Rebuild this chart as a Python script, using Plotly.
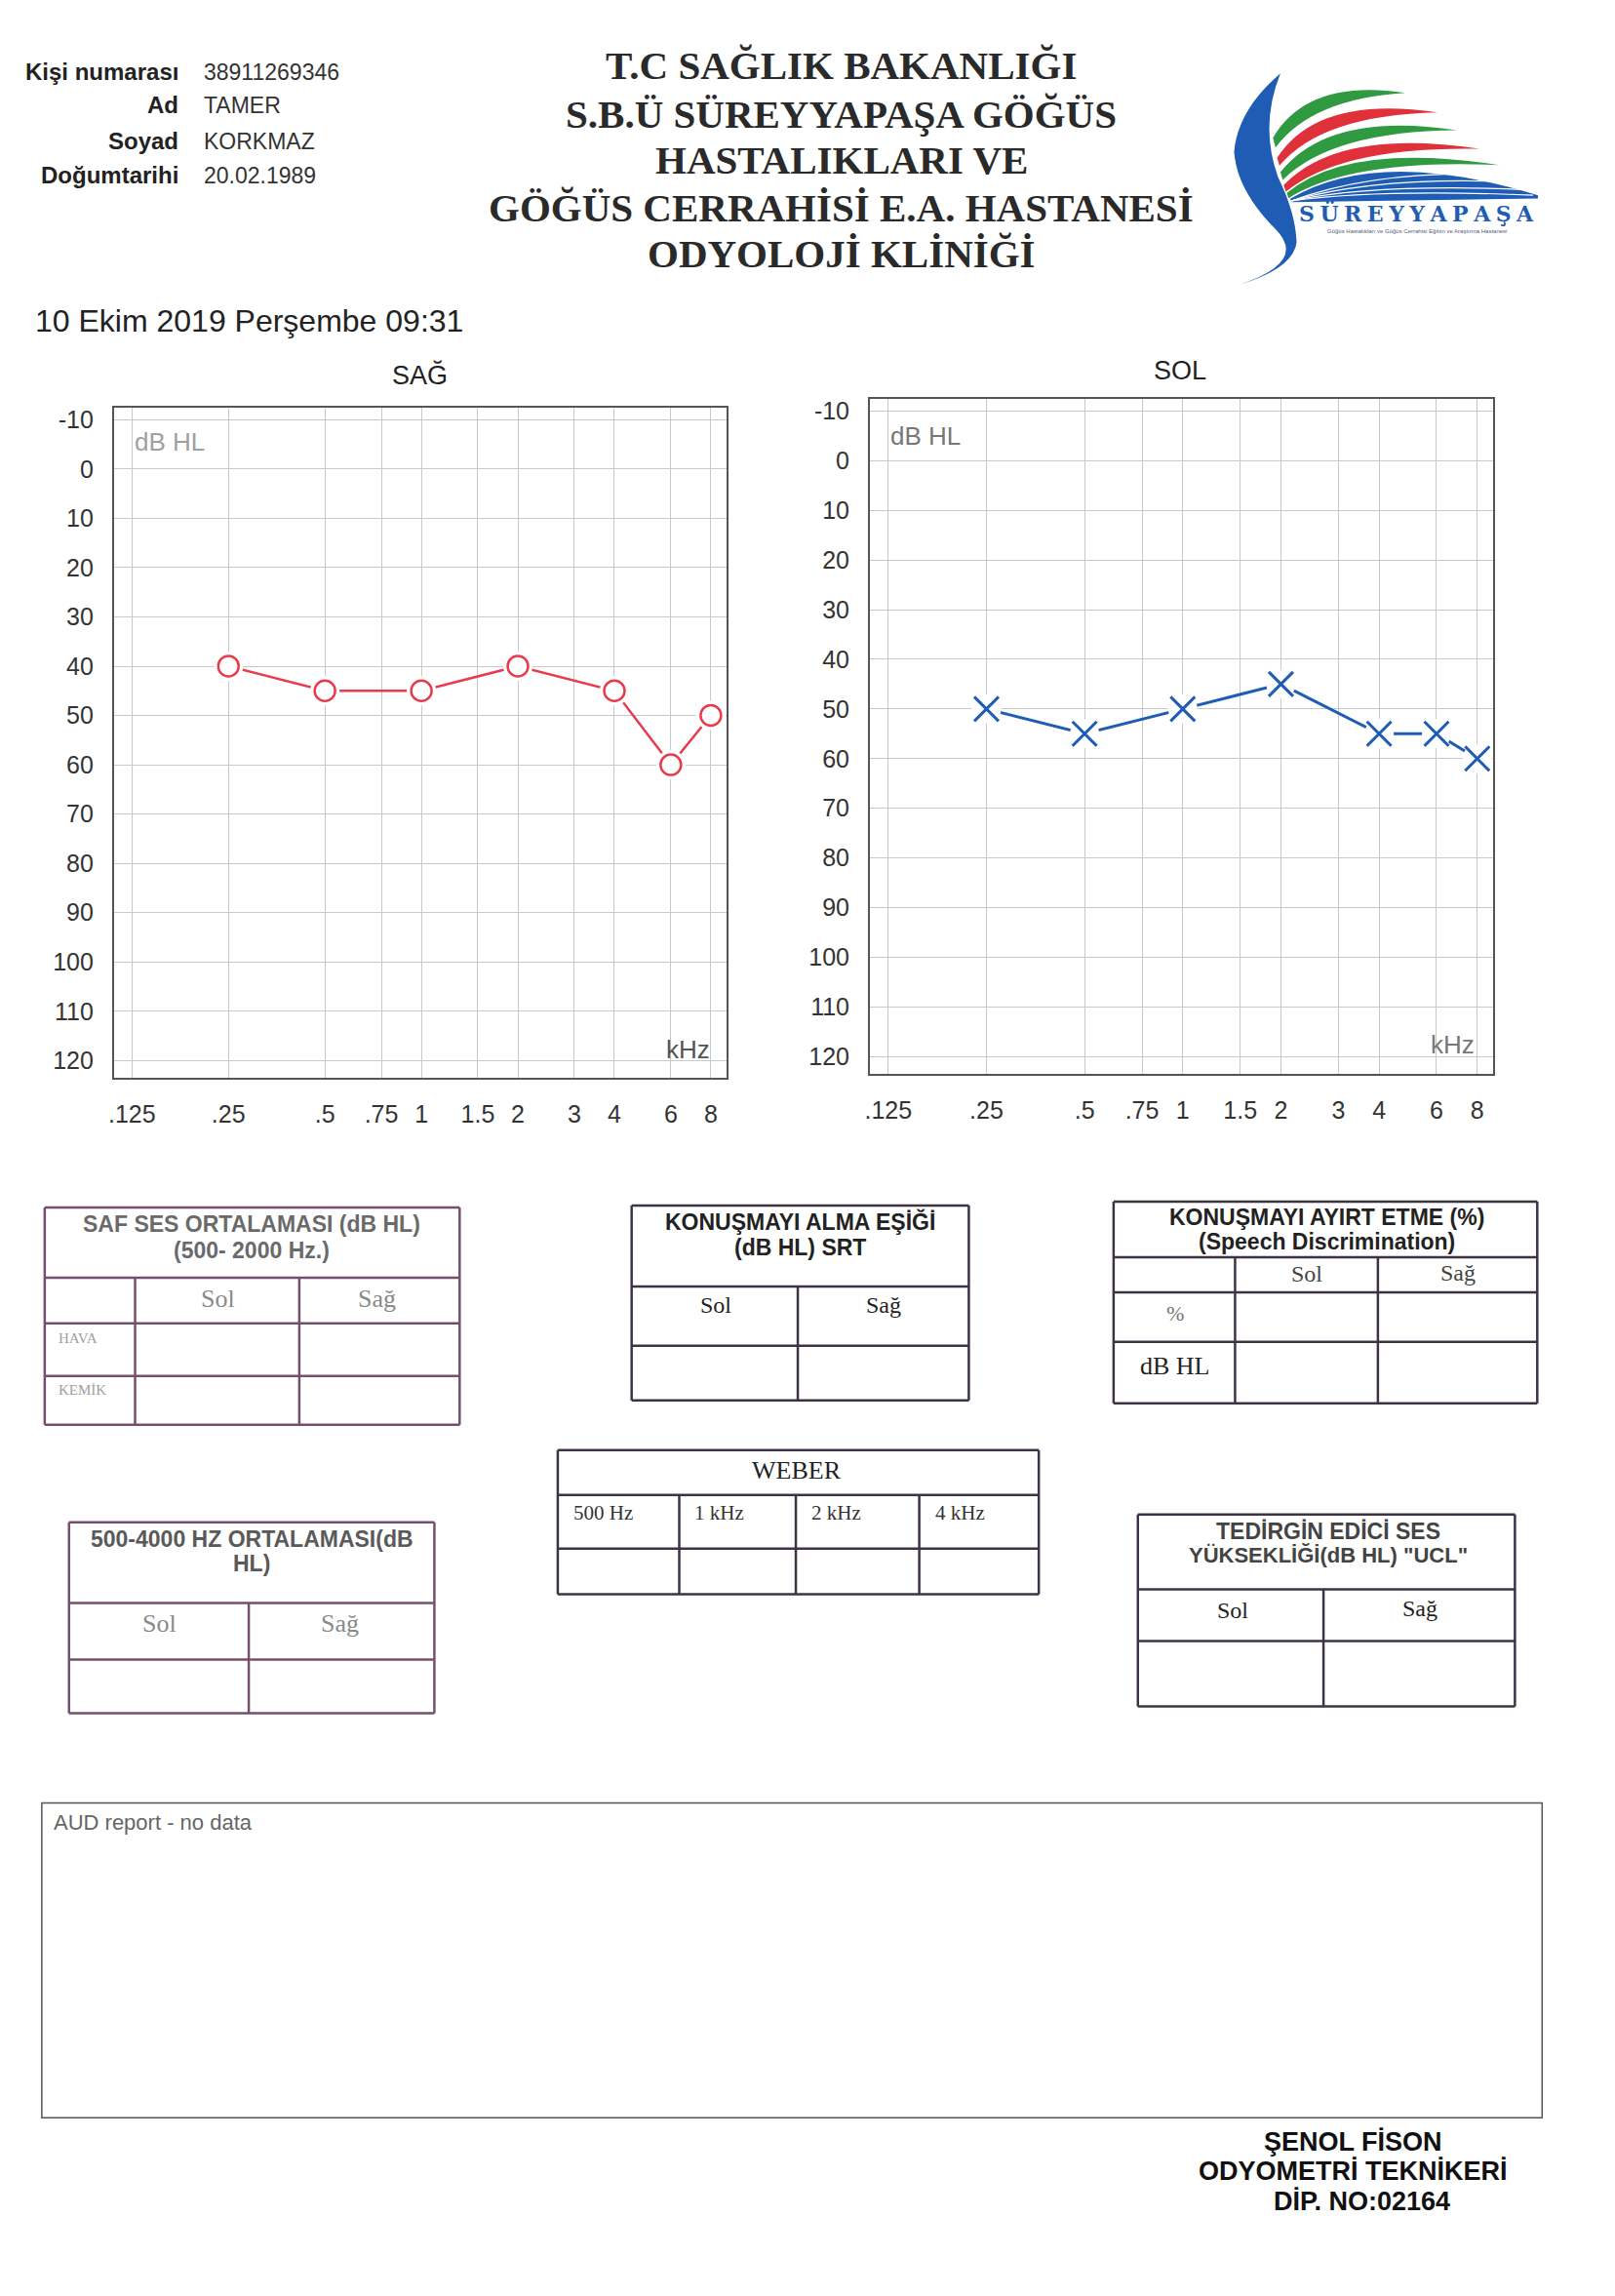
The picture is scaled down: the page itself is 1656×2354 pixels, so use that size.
import plotly.graph_objects as go

PAGE_W, PAGE_H = 1656, 2354

# audiogram thresholds (dB HL)
freqs_khz = [0.25, 0.5, 1, 2, 4, 6, 8]
sag_db = [40, 45, 45, 40, 45, 60, 50]   # right ear (SAĞ) - red circles
sol_db = [50, 55, 50, 45, 55, 55, 60]   # left ear (SOL) - blue crosses

freq_ticks = [0.125, 0.25, 0.5, 0.75, 1, 1.5, 2, 3, 4, 6, 8]
freq_labels = [".125", ".25", ".5", ".75", "1", "1.5", "2", "3", "4", "6", "8"]
db_ticks = [-10, 0, 10, 20, 30, 40, 50, 60, 70, 80, 90, 100, 110, 120]
db_labels = ["-10", "0", "10", "20", "30", "40", "50", "60", "70", "80", "90",
             "100", "110", "120"]

patient_labels = ["Kişi numarası", "Ad", "Soyad", "Doğumtarihi"]
patient_values = ["38911269346", "TAMER", "KORKMAZ", "20.02.1989"]

title_lines = [
    "T.C SAĞLIK BAKANLIĞI",
    "S.B.Ü SÜREYYAPAŞA GÖĞÜS",
    "HASTALIKLARI VE",
    "GÖĞÜS CERRAHİSİ E.A. HASTANESİ",
    "ODYOLOJİ KLİNİĞİ",
]
report_date = "10 Ekim 2019 Perşembe 09:31"
signature_lines = ["ŞENOL FİSON", "ODYOMETRİ TEKNİKERİ", "DİP. NO:02164"]

SANS = "Liberation Sans, Arial, sans-serif"
SERIF = "Liberation Serif, Times New Roman, serif"
RED = "#e63c4e"
BLUE = "#1f5cb3"

annotations = []
shapes = []


def text(x, y, s, size, color="#222", family=SANS, xanchor="center"):
    """Put a text on the page, in page pixels."""
    annotations.append(dict(
        x=x, y=y, xref="x", yref="y", text=s, showarrow=False,
        xanchor=xanchor, yanchor="middle",
        font=dict(family=family, size=size, color=color),
    ))


def line(x0, y0, x1, y1, color="#3d3345", width=2.5):
    shapes.append(dict(type="line", xref="x", yref="y", x0=x0, y0=y0,
                       x1=x1, y1=y1, layer="above",
                       line=dict(color=color, width=width)))


def path(d, fill, color=None, width=0):
    shapes.append(dict(type="path", xref="x", yref="y", path=d, layer="above",
                       fillcolor=fill,
                       line=dict(color=color or fill, width=width)))


def table(x0, x1, y0, y1, rows, cols, color):
    """Box with horizontal rules at rows and vertical rules (x, ytop) in cols."""
    for y in [y0] + rows + [y1]:
        line(x0, y, x1, y, color)
    line(x0, y0, x0, y1, color)
    line(x1, y0, x1, y1, color)
    for x, ytop in cols:
        line(x, ytop, x, y1, color)


# ---------------- header ----------------
label_y = [72, 106, 143, 178]
for lab, val, y in zip(patient_labels, patient_values, label_y):
    text(180, y, "<b>%s</b>" % lab, 24, "#222", xanchor="right")
    text(202, y, val, 23, "#333", xanchor="left")

for s, y in zip(title_lines, [65, 115, 162, 211, 258]):
    text(860, y, "<b>%s</b>" % s, 41, "#2a2a2a", family=SERIF)

text(28, 327, report_date, 32, "#222", xanchor="left")


# logo (drawn in the crop coordinates of the scan, offset 1240,60, x3)
def lp(zx, zy):
    return "%.1f,%.1f" % (1240 + zx / 3, 60 + zy / 3)


crescent = ("M" + lp(215, 40) + " Q" + lp(85, 150) + " " + lp(72, 280)
            + " Q" + lp(80, 400) + " " + lp(200, 520)
            + " Q" + lp(300, 620) + " " + lp(90, 690)
            + " Q" + lp(255, 640) + " " + lp(265, 560)
            + " Q" + lp(262, 470) + " " + lp(208, 360)
            + " Q" + lp(150, 200) + " " + lp(215, 40) + " Z")
path(crescent, BLUE)

stripes = [
    ("#2f9a40", (192, 238), (300, 55), (600, 100), (312, 118), (200, 268)),
    ("#e0303a", (205, 300), (330, 105), (700, 160), (342, 168), (212, 324)),
    ("#2f9a40", (215, 344), (365, 155), (760, 215), (374, 218), (222, 368)),
    ("#e0303a", (225, 384), (395, 207), (830, 272), (404, 264), (232, 404)),
    ("#2f9a40", (235, 408), (425, 250), (890, 322), (434, 302), (240, 424)),
]
for color, p0, c, r, c2, p1 in stripes:
    d = ("M" + lp(*p0) + " Q" + lp(*c) + " " + lp(*r)
         + " Q" + lp(*c2) + " " + lp(*p1) + " Z")
    path(d, color)

blue_band = ("M" + lp(245, 426) + " Q" + lp(520, 265) + " " + lp(1010, 415)
             + " L" + lp(1010, 425) + " L" + lp(250, 436) + " Z")
path(blue_band, BLUE)
for ry in [352, 375, 398, 415]:
    d = "M" + lp(250, 432) + " Q" + lp(520, ry - 20) + " " + lp(1010 - (430 - ry), ry)
    shapes.append(dict(type="path", xref="x", yref="y", path=d, layer="above",
                       line=dict(color="white", width=1.2)))

text(1452, 217, "<b>" + "\u2005".join("SÜREYYAPAŞA") + "</b>", 22, BLUE,
     family="DejaVu Serif, serif")
text(1452, 235, "Göğüs Hastalıkları ve Göğüs Cerrahisi Eğitim ve Araştırma Hastanesi",
     6, "#556080")

# ---------------- chart captions ----------------
text(426, 383, "SAĞ", 27, "#222")
text(1208, 378, "SOL", 27, "#222")
text(130, 451, "dB HL", 26, "#a0a0a0", xanchor="left")
text(908, 445, "dB HL", 26, "#777", xanchor="left")
text(727, 1075, "kHz", 26, "#555", xanchor="right")
text(1513, 1070, "kHz", 26, "#777", xanchor="right")

# ---------------- tables ----------------
PINK = "#74506c"
DARK = "#3d3345"

table(40, 467, 1237, 1460, [1309, 1356, 1410], [(133, 1309), (302, 1309)], PINK)
text(253, 1254, "<b>SAF SES ORTALAMASI (dB HL)</b>", 23, "#6a6a6a")
text(253, 1281, "<b>(500- 2000 Hz.)</b>", 23, "#6a6a6a")
text(218, 1331, "Sol", 26, "#8a8a8a", SERIF)
text(382, 1331, "Sağ", 26, "#8a8a8a", SERIF)
text(52, 1371, "HAVA", 15, "#a0a0a0", SERIF, "left")
text(52, 1424, "KEMİK", 15, "#a0a0a0", SERIF, "left")

table(644, 991, 1235, 1435, [1318, 1379], [(815, 1318)], DARK)
text(817, 1252, "<b>KONUŞMAYI ALMA EŞİĞİ</b>", 23, "#222")
text(817, 1278, "<b>(dB HL) SRT</b>", 23, "#222")
text(731, 1337, "Sol", 24, "#222", SERIF)
text(903, 1337, "Sağ", 24, "#222", SERIF)

table(568, 1063, 1486, 1634, [1532, 1587], [(693, 1532), (813, 1532), (940, 1532)], DARK)
text(814, 1507, "WEBER", 26, "#222", SERIF)
for s, x in zip(["500 Hz", "1 kHz", "2 kHz", "4 kHz"], [582, 707, 827, 954]):
    text(x, 1550, s, 21, "#333", SERIF, "left")

table(65, 441, 1560, 1756, [1643, 1701], [(250, 1643)], PINK)
text(253, 1577, "<b>500-4000 HZ ORTALAMASI(dB</b>", 23, "#5a5a5a")
text(253, 1602, "<b>HL)</b>", 23, "#5a5a5a")
text(158, 1664, "Sol", 26, "#8a8a8a", SERIF)
text(344, 1664, "Sağ", 26, "#8a8a8a", SERIF)

table(1140, 1576, 1231, 1438, [1288, 1324, 1375], [(1265, 1288), (1412, 1288)], DARK)
text(1359, 1247, "<b>KONUŞMAYI AYIRT ETME (%)</b>", 23, "#222")
text(1359, 1272, "<b>(Speech Discrimination)</b>", 23, "#222")
text(1339, 1305, "Sol", 24, "#444", SERIF)
text(1494, 1304, "Sağ", 24, "#444", SERIF)
text(1203, 1346, "%", 22, "#777", SERIF)
text(1203, 1400, "dB HL", 26, "#222", SERIF)

table(1165, 1553, 1552, 1749, [1629, 1682], [(1356, 1629)], DARK)
text(1361, 1569, "<b>TEDİRGİN EDİCİ SES</b>", 23, "#444")
text(1361, 1594, "<b>YÜKSEKLİĞİ(dB HL) \"UCL\"</b>", 22, "#444")
text(1263, 1650, "Sol", 24, "#222", SERIF)
text(1455, 1648, "Sağ", 24, "#222", SERIF)

# AUD box and signature
shapes.append(dict(type="rect", xref="x", yref="y", x0=37, y0=1848, x1=1581, y1=2171,
                   layer="above", line=dict(color="#555", width=1.5)))
text(47, 1868, "AUD report - no data", 22, "#666", xanchor="left")
for s, x, y in zip(signature_lines, [1387, 1387, 1396], [2196, 2226, 2257]):
    text(x, y, "<b>%s</b>" % s, 27, "#111")

# ---------------- audiograms ----------------
fig = go.Figure()
fig.add_trace(go.Scatter(x=[], y=[], xaxis="x", yaxis="y", showlegend=False))


def ear_traces(values, ax, ay, color, symbol, size, lw):
    fig.add_trace(go.Scatter(x=freqs_khz, y=values, mode="lines", xaxis=ax, yaxis=ay,
                             line=dict(color=color, width=lw), hoverinfo="skip"))
    # white halo so the connecting line stops short of each symbol
    fig.add_trace(go.Scatter(x=freqs_khz, y=values, mode="markers", xaxis=ax, yaxis=ay,
                             marker=dict(symbol="circle", size=30, color="white"),
                             hoverinfo="skip"))
    fig.add_trace(go.Scatter(x=freqs_khz, y=values, mode="markers", xaxis=ax, yaxis=ay,
                             marker=dict(symbol=symbol, size=size, color=color,
                                         line=dict(color=color, width=lw))))


ear_traces(sag_db, "x2", "y2", RED, "circle-open", 21, 2.5)
ear_traces(sol_db, "x3", "y3", BLUE, "x-thin", 25, 3)


def freq_axis(x0, x1, anchor):
    return dict(domain=[x0 / PAGE_W, x1 / PAGE_W], anchor=anchor, type="log",
                range=[-0.96, 0.953], tickvals=freq_ticks, ticktext=freq_labels,
                showgrid=True, gridcolor="#c8c8c8", gridwidth=1, zeroline=False,
                showline=True, mirror=True, linecolor="#555", linewidth=1.5,
                ticks="", ticklabelstandoff=14,
                tickfont=dict(family=SANS, size=25, color="#333"))


def db_axis(y0, y1, anchor):
    return dict(domain=[1 - y1 / PAGE_H, 1 - y0 / PAGE_H], anchor=anchor,
                range=[123.5, -12.5], tickvals=db_ticks, ticktext=db_labels,
                showgrid=True, gridcolor="#c8c8c8", gridwidth=1, zeroline=False,
                showline=True, mirror=True, linecolor="#555", linewidth=1.5,
                ticks="", ticklabelstandoff=14,
                tickfont=dict(family=SANS, size=25, color="#333"))


fig.update_layout(
    width=PAGE_W, height=PAGE_H, autosize=False,
    margin=dict(l=0, r=0, t=0, b=0),
    paper_bgcolor="white", plot_bgcolor="rgba(0,0,0,0)",
    showlegend=False,
    xaxis=dict(domain=[0, 1], range=[0, PAGE_W], visible=False, fixedrange=True),
    yaxis=dict(domain=[0, 1], range=[PAGE_H, 0], visible=False, fixedrange=True),
    xaxis2=freq_axis(111, 742, "y2"),
    yaxis2=db_axis(416, 1104, "x2"),
    xaxis3=freq_axis(889, 1531, "y3"),
    yaxis3=db_axis(407, 1100, "x3"),
    annotations=annotations,
    shapes=shapes,
)

# the page's default body margin would push the sheet 8px right and down
fig.write_html("out.html", config={"displayModeBar": False},
               post_script="document.body.style.margin = '0';")
